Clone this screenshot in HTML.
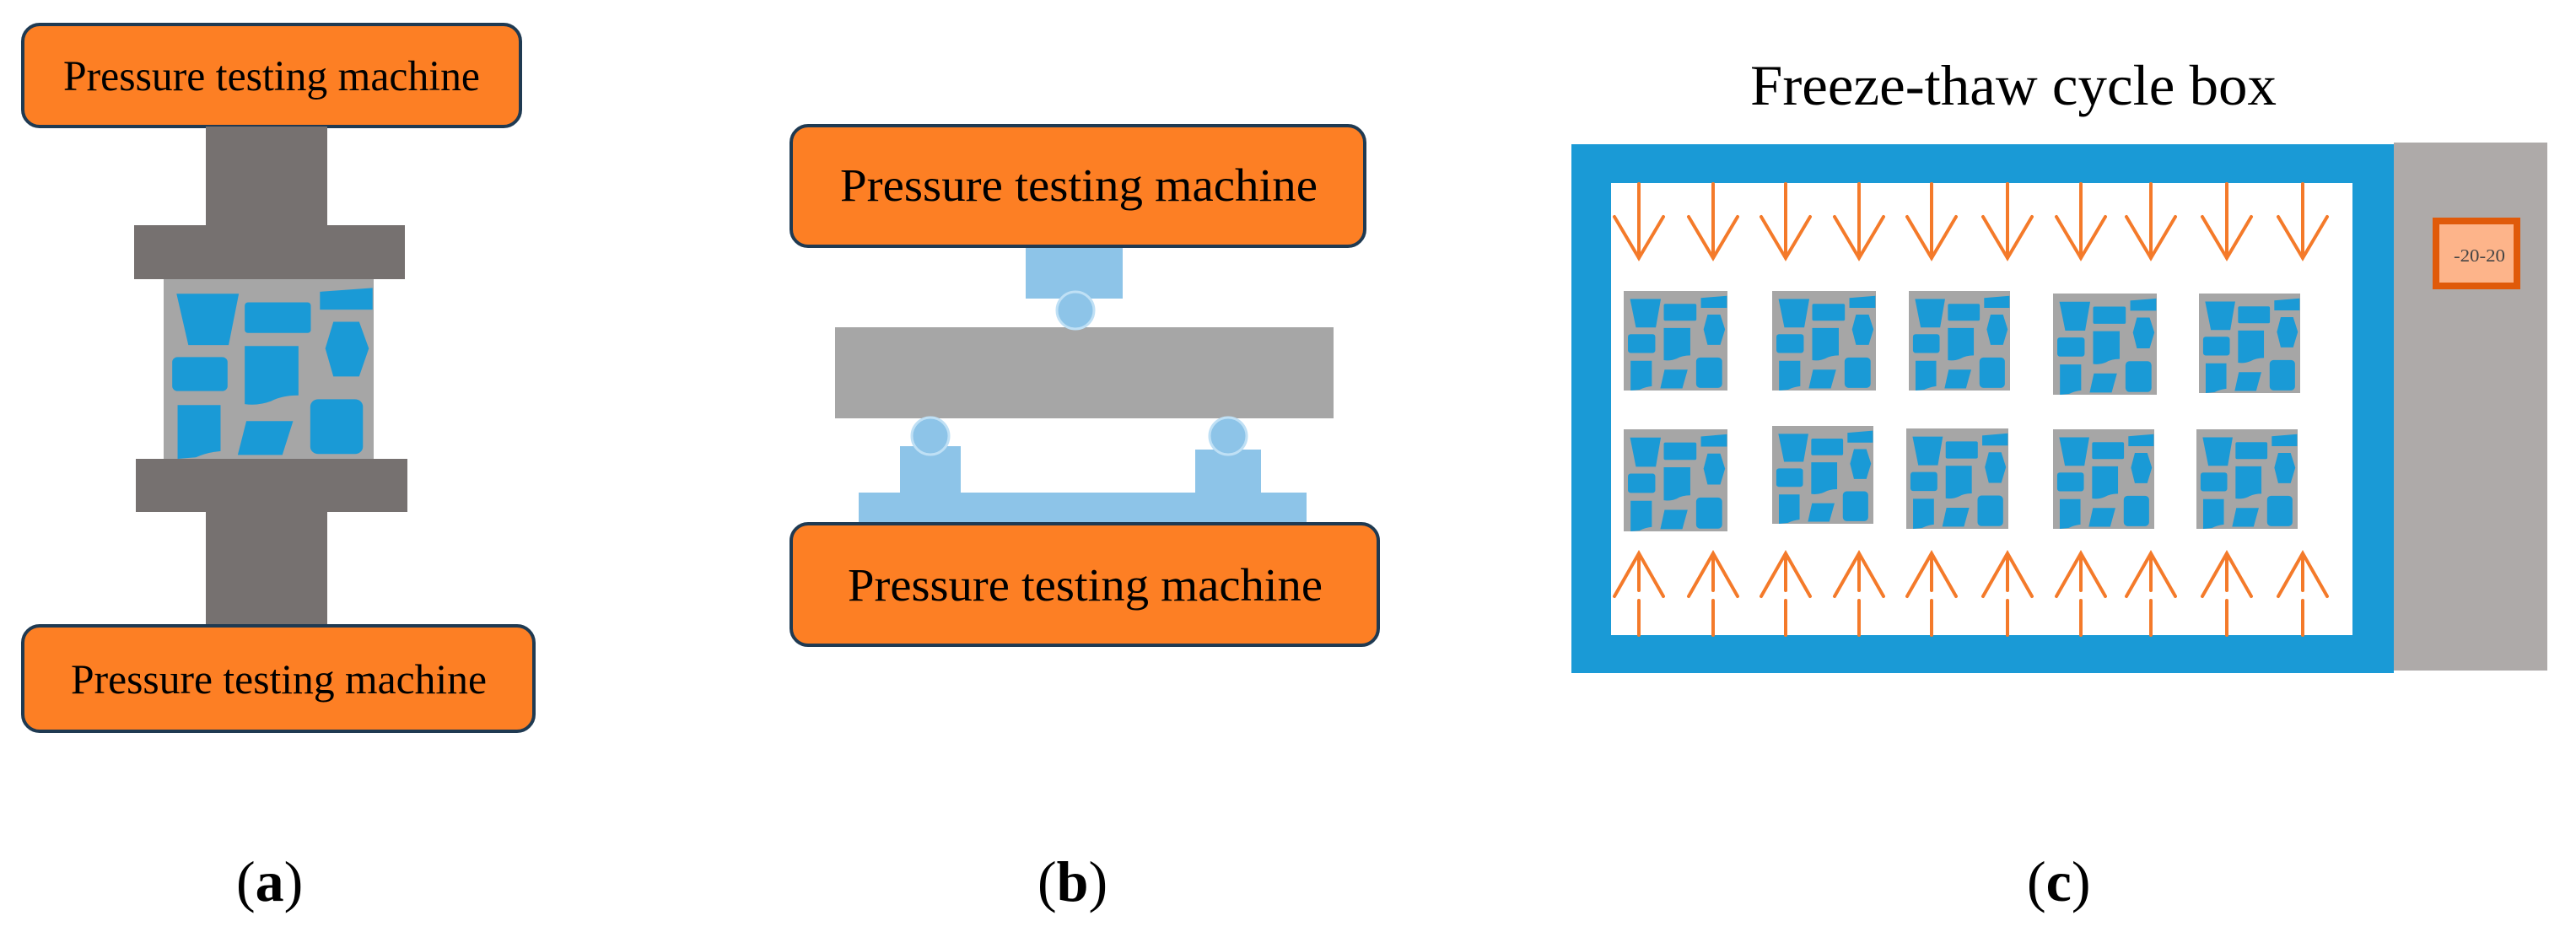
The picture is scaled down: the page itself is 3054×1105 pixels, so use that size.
<!DOCTYPE html>
<html><head><meta charset="utf-8"><style>html,body{margin:0;padding:0;background:#fff}svg{display:block}</style></head>
<body>
<svg width="3054" height="1105" viewBox="0 0 3054 1105" xmlns="http://www.w3.org/2000/svg">
<defs>
<symbol id="sp" viewBox="0 0 391 371" preserveAspectRatio="none">
<rect x="0" y="0" width="391" height="371" fill="#a6a6a6"/>
<g fill="#1a9ad6">
<polygon points="24,30 140,30 121,136 46,136"/>
<rect x="151" y="48" width="123" height="63" rx="6"/>
<polygon points="291,26 389,18 389,63 291,63"/>
<polygon points="316,88 364,88 382,143 364,201 316,201 301,143"/>
<rect x="16" y="161" width="103" height="70" rx="10"/>
<path d="M151,138 L251,138 L251,240 Q220,240 200,252 Q175,262 151,258 Z"/>
<path d="M26,260 L106,260 L106,355 Q80,358 60,368 L26,371 Z"/>
<polygon points="154,293 241,293 221,363 138,363"/>
<rect x="273" y="248" width="98" height="113" rx="15"/>
</g>
</symbol>
</defs>
<g font-family="Liberation Serif, serif" fill="#000">
<!-- Panel a -->
<rect x="27" y="29" width="590" height="121" rx="20" fill="#fd7f24" stroke="#1f3a52" stroke-width="4"/>
<text x="75" y="107" font-size="51" textLength="494" lengthAdjust="spacingAndGlyphs">Pressure testing machine</text>
<rect x="244" y="150" width="144" height="118" fill="#767170"/>
<rect x="159" y="267" width="321" height="64" fill="#767170"/>
<use href="#sp" x="194" y="331" width="249" height="213"/>
<rect x="161" y="544" width="322" height="63" fill="#767170"/>
<rect x="244" y="606" width="144" height="137" fill="#767170"/>
<rect x="27" y="742" width="606" height="125" rx="20" fill="#fd7f24" stroke="#1f3a52" stroke-width="4"/>
<text x="84" y="822" font-size="50" textLength="493" lengthAdjust="spacingAndGlyphs">Pressure testing machine</text>

<!-- Panel b -->
<rect x="1216" y="290" width="115" height="64" fill="#8dc4e8"/>
<rect x="990" y="388" width="591" height="108" fill="#a6a6a6"/>
<circle cx="1275" cy="368" r="22" fill="#8dc4e8" stroke="#bfe0f5" stroke-width="3"/>
<rect x="1067" y="529" width="72" height="60" fill="#8dc4e8"/>
<rect x="1417" y="533" width="78" height="56" fill="#8dc4e8"/>
<rect x="1018" y="584" width="531" height="40" fill="#8dc4e8"/>
<circle cx="1103" cy="517" r="22" fill="#8dc4e8" stroke="#bfe0f5" stroke-width="3"/>
<circle cx="1456" cy="517" r="22" fill="#8dc4e8" stroke="#bfe0f5" stroke-width="3"/>
<rect x="938" y="149" width="680" height="143" rx="20" fill="#fd7f24" stroke="#1f3a52" stroke-width="4"/>
<text x="996" y="238" font-size="55" textLength="566" lengthAdjust="spacingAndGlyphs">Pressure testing machine</text>
<rect x="938" y="621" width="696" height="144" rx="20" fill="#fd7f24" stroke="#1f3a52" stroke-width="4"/>
<text x="1005" y="712" font-size="55" textLength="563" lengthAdjust="spacingAndGlyphs">Pressure testing machine</text>

<!-- Panel c -->
<text x="2075" y="124" font-size="68" textLength="624" lengthAdjust="spacingAndGlyphs">Freeze-thaw cycle box</text>
<rect x="2838" y="169" width="182" height="626" fill="#aeaaa9"/>
<rect x="1863" y="171" width="975" height="627" fill="#1a9ad6"/>
<rect x="1910" y="217" width="879" height="536" fill="#fff"/>
<rect x="2888" y="262" width="96" height="77" fill="#fdb48a" stroke="#e05a0a" stroke-width="8"/>
<text x="2909" y="310" font-size="21" fill="#444" textLength="61" lengthAdjust="spacingAndGlyphs">-20-20</text>
<g stroke="#f47a2a" stroke-width="4" fill="none" stroke-linecap="round">
<g id="dn">
<path d="M1943,218 V306 M1914,257 L1943,306 L1972,257"/>
<path d="M1943,753 V712 M1943,658 V700 M1914,707 L1943,656 L1972,707"/>
</g>
<use href="#dn" x="88"/><use href="#dn" x="174"/><use href="#dn" x="261"/><use href="#dn" x="347"/>
<use href="#dn" x="437"/><use href="#dn" x="524"/><use href="#dn" x="607"/><use href="#dn" x="697"/><use href="#dn" x="787"/>
</g>
<use href="#sp" x="1925" y="345" width="123" height="118"/>
<use href="#sp" x="2101" y="345" width="123" height="118"/>
<use href="#sp" x="2263" y="345" width="120" height="118"/>
<use href="#sp" x="2434" y="348" width="123" height="120"/>
<use href="#sp" x="2607" y="348" width="120" height="118"/>
<use href="#sp" x="1925" y="509" width="123" height="121"/>
<use href="#sp" x="2101" y="505" width="120" height="116"/>
<use href="#sp" x="2260" y="508" width="121" height="119"/>
<use href="#sp" x="2434" y="509" width="120" height="118"/>
<use href="#sp" x="2604" y="509" width="120" height="118"/>

<!-- Labels -->
<text x="280" y="1068" font-size="68">(<tspan font-weight="bold">a</tspan>)</text>
<text x="1230" y="1068" font-size="68">(<tspan font-weight="bold">b</tspan>)</text>
<text x="2403" y="1068" font-size="68">(<tspan font-weight="bold">c</tspan>)</text>
</g>
</svg>
</body></html>
